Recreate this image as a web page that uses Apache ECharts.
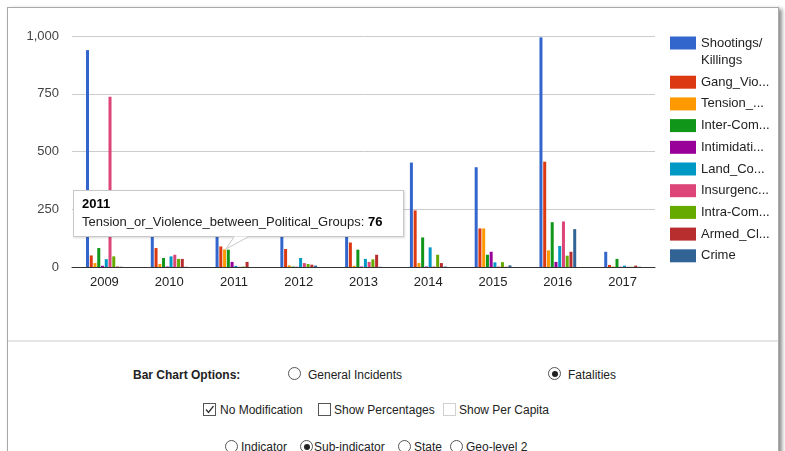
<!DOCTYPE html>
<html>
<head>
<meta charset="utf-8">
<script src="https://cdn.jsdelivr.net/npm/echarts@6/dist/echarts.min.js"></script>
<style>
  html, body { margin:0; padding:0; background:#fff; width:785px; height:451px; overflow:hidden; }
  #frame { position:absolute; left:7px; top:7px; width:770px; height:470px; border:1px solid #a9a9a9; background:#fff; box-shadow:3px 2px 4px rgba(0,0,0,0.45); }
  #sep { position:absolute; left:8px; top:340px; width:770px; height:2px; background:#e6e6e6; }
  #chart { position:absolute; left:0; top:0; width:785px; height:340px; }
  .lbl { position:absolute; font-family:"Liberation Sans", Arial, sans-serif; font-size:12px; color:#222; line-height:16px; white-space:nowrap; }
  .radio { position:absolute; width:11px; height:11px; border:1px solid #555; border-radius:50%; background:#fff; }
  .radio.on::after { content:""; position:absolute; left:2.5px; top:2.5px; width:6px; height:6px; border-radius:50%; background:#222; }
  .cb { position:absolute; width:11px; height:11px; border:1px solid #555; background:#fff; }
  .cb.dis { border-color:#d0d0d0; }
</style>
</head>
<body>
<div id="frame"></div>
<div id="sep"></div>
<div id="chart"></div>

<span class="lbl" style="left:133px;top:367px;font-weight:bold;">Bar Chart Options:</span>
<span class="radio" style="left:288px;top:367px;"></span>
<span class="lbl" style="left:308px;top:367px;">General Incidents</span>
<span class="radio on" style="left:548px;top:367px;"></span>
<span class="lbl" style="left:568px;top:367px;">Fatalities</span>

<span class="cb" style="left:203px;top:403px;"><svg width="11" height="11" style="position:absolute;left:0;top:0"><polyline points="2,5.5 4.5,8.5 9.5,2" fill="none" stroke="#333" stroke-width="1.3"/></svg></span>
<span class="lbl" style="left:220px;top:402px;">No Modification</span>
<span class="cb" style="left:318px;top:403px;"></span>
<span class="lbl" style="left:334px;top:402px;">Show Percentages</span>
<span class="cb dis" style="left:443px;top:403px;"></span>
<span class="lbl" style="left:459px;top:402px;">Show Per Capita</span>

<span class="radio" style="left:225px;top:440px;"></span>
<span class="lbl" style="left:241px;top:439px;">Indicator</span>
<span class="radio on" style="left:300px;top:440px;"></span>
<span class="lbl" style="left:314px;top:439px;">Sub-indicator</span>
<span class="radio" style="left:398px;top:440px;"></span>
<span class="lbl" style="left:414px;top:439px;">State</span>
<span class="radio" style="left:450px;top:440px;"></span>
<span class="lbl" style="left:466px;top:439px;">Geo-level 2</span>

<script>
// ---- data ----
const years = ['2009','2010','2011','2012','2013','2014','2015','2016','2017'];
const seriesNames = ['Shootings/Killings','Gang_Violence','Tension_or_Violence_between_Political_Groups','Inter-Communal_Conflict','Intimidation','Land_Conflict','Insurgency_Related','Intra-Communal_Conflict','Armed_Clashes','Crime'];
const legendLabels = ['{e| }\n{t|Shootings/}\n{t|Killings}','Gang_Vio...','Tension_...','Inter-Com...','Intimidati...','Land_Co...','Insurgenc...','Intra-Com...','Armed_Cl...','Crime'];
const shootings    = [939,160,150,150,140,452,432,994,66];
const gang         = [50,82,89,78,106,245,167,456,9];
const tension      = [17,13,76,7,5,17,167,72,2];
const interCom     = [82,39,75,2,75,128,53,194,35];
const intimidation = [5,2,22,1,2,2,66,22,1];
const land         = [34,46,5,39,35,85,20,91,6];
const insurgency   = [737,53,1,17,22,2,2,197,1];
const intraCom     = [46,35,2,13,33,53,21,49,1];
const armed        = [2,35,22,10,53,17,1,66,6];
const crime        = [1,1,0,6,1,2,7,164,1];
const yTicks = [0,250,500,750,1000];

const allValues = [shootings,gang,tension,interCom,intimidation,land,insurgency,intraCom,armed,crime];
const colors = ['#3366cc','#dc3912','#ff9900','#109618','#990099','#0099c6','#dd4477','#66aa00','#b82e2e','#316395'];

const chart = echarts.init(document.getElementById('chart'), null, {renderer:'canvas'});
const font = '"Liberation Sans", Arial, sans-serif';

const option = {
  animation: false,
  color: colors,
  textStyle: { fontFamily: font },
  grid: { left: 72, right: 130, top: 36, height: 231 },
  legend: {
    orient: 'vertical', left: 670, top: 17, padding: 0,
    itemWidth: 26, itemHeight: 13, itemGap: 4.7, icon: 'rect',
    data: seriesNames,
    formatter: name => legendLabels[seriesNames.indexOf(name)],
    textStyle: { fontFamily: font, fontSize: 13, color: '#222', lineHeight: 17,
      rich: {
        e: { fontFamily: font, fontSize: 13, lineHeight: 18 },
        t: { fontFamily: font, fontSize: 13, color: '#222', lineHeight: 17 }
      }
    },
    selectedMode: false
  },
  tooltip: {
    trigger: 'item', triggerOn: 'none', alwaysShowContent: true,
    transitionDuration: 0, padding: 0, borderWidth: 0,
    backgroundColor: 'transparent', extraCssText: 'box-shadow:none;',
    position: () => [73, 190],
    formatter: p => '<div style="position:relative;box-sizing:border-box;width:331px;height:47px;border:1px solid #c8c8c8;background:#fff;box-shadow:1px 1px 2px rgba(0,0,0,0.15);font-family:' + "'Liberation Sans',Arial,sans-serif" + ';font-size:13px;line-height:18px;padding:4px 0 0 8px;color:#222;">' +
      '<b style="color:#000">' + p.name + '</b><br>' + p.seriesName + ': <b style="color:#000">' + p.value + '</b>' +
      '<svg width="30" height="18" style="position:absolute;left:149px;top:44px;overflow:visible">' +
      '<polygon points="11,1.5 25,1.5 3,14" fill="#fff" stroke="none"/>' +
      '<polyline points="11,2 3,14 25,2" fill="none" stroke="#c8c8c8" stroke-width="1"/></svg></div>'
  },
  xAxis: {
    type: 'category', data: years,
    axisTick: { show: false },
    axisLine: { lineStyle: { color: '#333', width: 1 } },
    axisLabel: { fontFamily: font, fontSize: 13, color: '#222', margin: 9 }
  },
  yAxis: {
    type: 'value', min: yTicks[0], max: yTicks[yTicks.length - 1], interval: 250,
    axisLine: { show: false }, axisTick: { show: false },
    splitLine: { lineStyle: { color: '#cccccc', width: 1 } },
    axisLabel: { fontFamily: font, fontSize: 13, color: '#444', margin: 13,
      formatter: v => v.toLocaleString('en-US') }
  },
  series: seriesNames.map((n, i) => ({
    name: n, type: 'bar', data: allValues[i],
    barWidth: 3, barGap: '25%',
    itemStyle: { color: colors[i] },
    emphasis: { disabled: true }
  }))
};
chart.setOption(option);
function showTip() {
  chart.dispatchAction({ type: 'showTip', seriesIndex: 2, dataIndex: 2 });
}
showTip();
setTimeout(showTip, 50);
</script>
</body>
</html>
